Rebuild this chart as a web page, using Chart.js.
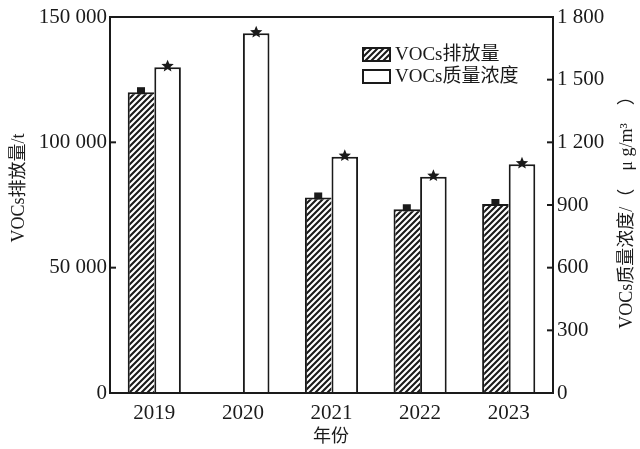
<!DOCTYPE html>
<html><head><meta charset="utf-8">
<script src="https://cdn.jsdelivr.net/npm/chart.js@4/dist/chart.umd.min.js"></script>
<style>html,body{margin:0;padding:0;background:#fff}#wrap{width:640px;height:449px}</style>
</head><body><div id="wrap"><canvas id="c" width="640" height="449"></canvas></div>
<script>
const years = ['2019','2020','2021','2022','2023'];
const emission = [120000, null, 78000, 73300, 75400];
const concentration = [1560, 1722, 1131, 1035, 1095];
const leftTicks = [0, 50000, 100000, 150000];
const rightTicks = [0, 300, 600, 900, 1200, 1500, 1800];
const seriesNames = ['VOCs排放量', 'VOCs质量浓度'];
const leftTitle = 'VOCs排放量/t';
const rightTitle = 'VOCs质量浓度/（\u2003μ g/m³\u2003）';
const xTitle = '年份';

const FONT = '"Liberation Serif","Noto Sans CJK SC",serif';

function hatch(){
  const s = 6;
  const p = document.createElement('canvas');
  p.width = s; p.height = s;
  const g = p.getContext('2d');
  g.fillStyle = '#fff'; g.fillRect(0,0,s,s);
  g.strokeStyle = '#1a1a1a'; g.lineWidth = 2.1;
  g.beginPath();
  g.moveTo(-1, s+1); g.lineTo(s+1, -1);
  g.moveTo(-1, 1); g.lineTo(1, -1);
  g.moveTo(s-1, s+1); g.lineTo(s+1, s-1);
  g.stroke();
  return document.getElementById('c').getContext('2d').createPattern(p, 'repeat');
}
const pat = hatch();

function fmt(v){ return String(v).replace(/\B(?=(\d{3})+(?!\d))/g, ' '); }

function star(ctx, x, y, r){
  ctx.beginPath();
  for (let i=0;i<10;i++){
    const a = -Math.PI/2 + i*Math.PI/5;
    const rr = i%2===0 ? r : r*0.45;
    const px = x + rr*Math.cos(a), py = y + rr*Math.sin(a);
    if(i===0) ctx.moveTo(px,py); else ctx.lineTo(px,py);
  }
  ctx.closePath(); ctx.fill();
}

const deco = {
  id:'deco',
  afterDatasetsDraw(chart){
    const ctx = chart.ctx, a = chart.chartArea;
    ctx.save();
    ctx.fillStyle = '#1a1a1a';
    chart.getDatasetMeta(0).data.forEach((b,i)=>{
      if(emission[i]==null) return;
      ctx.fillRect(b.x-4, b.y-5, 8, 7);
    });
    chart.getDatasetMeta(1).data.forEach((b,i)=>{
      star(ctx, b.x, b.y-1, 6.5);
    });
    // frame
    ctx.strokeStyle = '#1a1a1a'; ctx.lineWidth = 2;
    ctx.strokeRect(a.left, a.top, a.right-a.left, a.bottom-a.top);
    // inward ticks
    const yl = chart.scales.y, yr = chart.scales.y1;
    leftTicks.forEach(v=>{ const y = yl.getPixelForValue(v); ctx.beginPath(); ctx.moveTo(a.left, y); ctx.lineTo(a.left+6, y); ctx.stroke(); });
    rightTicks.forEach(v=>{ const y = yr.getPixelForValue(v); ctx.beginPath(); ctx.moveTo(a.right, y); ctx.lineTo(a.right-6, y); ctx.stroke(); });
    // legend
    ctx.fillStyle = pat; ctx.fillRect(363, 48, 27, 13); ctx.strokeRect(363, 48, 27, 13);
    ctx.fillStyle = '#fff'; ctx.fillRect(363, 70, 27, 13); ctx.strokeRect(363, 70, 27, 13);
    ctx.fillStyle = '#1a1a1a';
    ctx.font = '19px ' + FONT; ctx.textBaseline = 'middle'; ctx.textAlign = 'left';
    ctx.fillText(seriesNames[0], 395, 55);
    ctx.fillText(seriesNames[1], 395, 77);
    // axis titles
    ctx.font = '18px ' + FONT; ctx.textAlign = 'center';
    ctx.save(); ctx.translate(19, 188); ctx.rotate(-Math.PI/2); ctx.fillText(leftTitle, 0, 0); ctx.restore();
    ctx.save(); ctx.translate(627, 208); ctx.rotate(-Math.PI/2); ctx.fillText(rightTitle, 0, 0); ctx.restore();
    ctx.fillText(xTitle, 331, 437);
    ctx.restore();
  }
};

new Chart(document.getElementById('c'), {
  type:'bar',
  data:{ labels: years, datasets:[
    { label: seriesNames[0], data: emission, yAxisID:'y', backgroundColor: pat, borderColor:'#1a1a1a',
      borderWidth:{top:2,left:2,right:0,bottom:0}, borderSkipped:false, categoryPercentage:0.6, barPercentage:1.0 },
    { label: seriesNames[1], data: concentration, yAxisID:'y1', backgroundColor:'#fff', borderColor:'#1a1a1a',
      borderWidth:{top:2,left:2,right:2,bottom:0}, borderSkipped:false, categoryPercentage:0.6, barPercentage:1.0 }
  ]},
  options:{
    responsive:false, animation:false, devicePixelRatio:1,
    layout:{ padding:{ top:17, left:0, right:0, bottom:0 } },
    plugins:{ legend:{display:false}, tooltip:{enabled:false} },
    scales:{
      x:{ grid:{display:false, drawTicks:false}, border:{display:false},
          ticks:{ color:'#1a1a1a', font:{family:FONT, size:21}, padding:8 },
          afterFit(s){ s.height = 56; } },
      y:{ position:'left', min:0, max:150000, grid:{display:false, drawTicks:false}, border:{display:false},
          afterBuildTicks(s){ s.ticks = leftTicks.map(v=>({value:v})); },
          ticks:{ color:'#1a1a1a', font:{family:FONT, size:21}, padding:3, callback:v=>fmt(v) },
          afterFit(s){ s.width = 110; } },
      y1:{ position:'right', min:0, max:1800, grid:{display:false, drawTicks:false}, border:{display:false},
          afterBuildTicks(s){ s.ticks = rightTicks.map(v=>({value:v})); },
          ticks:{ color:'#1a1a1a', font:{family:FONT, size:21}, padding:4, callback:v=>fmt(v) },
          afterFit(s){ s.width = 87; } }
    }
  },
  plugins:[deco]
});
</script></body></html>
